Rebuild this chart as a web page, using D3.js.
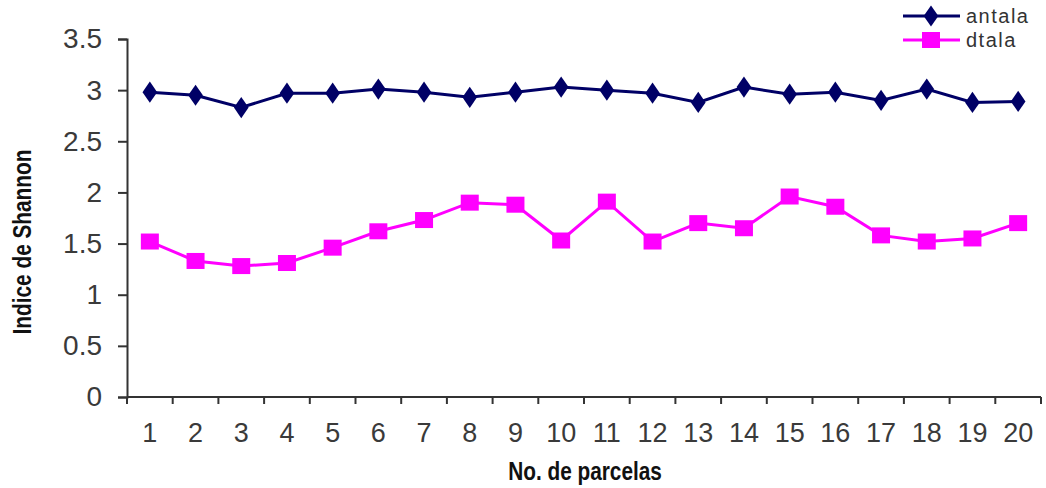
<!DOCTYPE html>
<html>
<head>
<meta charset="utf-8">
<script src="https://cdn.jsdelivr.net/npm/d3@7/dist/d3.min.js"></script>
<style>
  html, body { margin: 0; padding: 0; background: #ffffff; }
  svg { display: block; }
</style>
</head>
<body>
<svg id="chart" width="1046" height="488"></svg>
<script>
const categories = ["1","2","3","4","5","6","7","8","9","10","11","12","13","14","15","16","17","18","19","20"];
const antala = [2.98, 2.95, 2.83, 2.97, 2.97, 3.01, 2.98, 2.93, 2.98, 3.03, 3.00, 2.97, 2.88, 3.03, 2.96, 2.98, 2.90, 3.01, 2.88, 2.89];
const dtala  = [1.52, 1.33, 1.28, 1.31, 1.46, 1.62, 1.73, 1.90, 1.88, 1.53, 1.91, 1.52, 1.70, 1.65, 1.96, 1.86, 1.58, 1.52, 1.55, 1.70];
const yTicks = [0, 0.5, 1, 1.5, 2, 2.5, 3, 3.5];
const seriesNames = ["antala", "dtala"];
const seriesColors = ["#000066", "#ff00ff"];

const svg = d3.select("#chart");
const plotLeft = 127, plotRight = 1041, plotTop = 39, plotBottom = 397;

const x = d3.scaleBand().domain(categories).range([plotLeft, plotRight]).paddingInner(0).paddingOuter(0);
const y = d3.scaleLinear().domain([0, 3.5]).range([plotBottom, plotTop]);

const axisColor = "#333333";
const labelFont = "'Liberation Sans', Arial, sans-serif";

// Y axis
const yAxis = svg.append("g").attr("transform", `translate(${plotLeft},0)`)
  .call(d3.axisLeft(y).tickValues(yTicks).tickFormat(d => String(d)).tickSize(9).tickPadding(16));
yAxis.select(".domain").attr("stroke", axisColor).attr("stroke-width", 2);
yAxis.selectAll(".tick line").attr("stroke", axisColor).attr("stroke-width", 2);
yAxis.selectAll(".tick text").attr("font-family", labelFont).attr("font-size", 28).attr("fill", "#3a3a3a");

// X axis: ticks at band boundaries
const xAxisG = svg.append("g").attr("transform", `translate(0,${plotBottom})`);
xAxisG.append("line").attr("x1", plotLeft).attr("x2", plotRight).attr("y1", 0).attr("y2", 0)
  .attr("stroke", axisColor).attr("stroke-width", 2);
const boundaries = categories.map(c => x(c)).concat([x(categories[categories.length-1]) + x.bandwidth()]);
xAxisG.selectAll("line.tick").data(boundaries).enter().append("line")
  .attr("class", "tick").attr("x1", d => d).attr("x2", d => d).attr("y1", 0).attr("y2", 7)
  .attr("stroke", axisColor).attr("stroke-width", 2);
xAxisG.selectAll("text.lbl").data(categories).enter().append("text")
  .attr("class", "lbl")
  .attr("x", d => x(d) + x.bandwidth()/2)
  .attr("y", 45)
  .attr("text-anchor", "middle")
  .attr("font-family", labelFont).attr("font-size", 27).attr("fill", "#3a3a3a")
  .text(d => d);

// Axis titles (condensed bold)
const titleFont = "'Liberation Sans Narrow', 'Liberation Sans', Arial, sans-serif";
svg.append("text")
  .attr("transform", `translate(31,${(plotTop+plotBottom)/2 + 24}) rotate(-90) scale(0.8,1)`)
  .attr("text-anchor", "middle")
  .attr("font-family", titleFont).attr("font-weight", "bold").attr("font-size", 26)
  .attr("fill", "#111")
  .text("Indice de Shannon");
svg.append("text")
  .attr("transform", `translate(585,480) scale(0.8,1)`)
  .attr("text-anchor", "middle")
  .attr("font-family", titleFont).attr("font-weight", "bold").attr("font-size", 26)
  .attr("fill", "#111")
  .text("No. de parcelas");

// Lines
const data = [antala, dtala];
const line = d3.line().x((d, i) => x(categories[i]) + x.bandwidth()/2).y(d => y(d));
data.forEach((vals, si) => {
  svg.append("path").datum(vals).attr("d", line)
    .attr("fill", "none").attr("stroke", seriesColors[si]).attr("stroke-width", 3);
});

// Markers
const diamond = d3.symbol().type(d3.symbolDiamond).size(130);
svg.append("g").selectAll("path").data(antala).enter().append("path")
  .attr("d", diamond)
  .attr("transform", (d, i) => `translate(${x(categories[i]) + x.bandwidth()/2},${y(d)}) scale(1.2,1)`)
  .attr("fill", seriesColors[0]);
svg.append("g").selectAll("rect").data(dtala).enter().append("rect")
  .attr("x", (d, i) => x(categories[i]) + x.bandwidth()/2 - 9)
  .attr("y", d => y(d) - 8)
  .attr("width", 18).attr("height", 16)
  .attr("fill", seriesColors[1]);

// Legend
const legendRows = [{name: seriesNames[0], color: seriesColors[0], cy: 16, type: "diamond"},
                    {name: seriesNames[1], color: seriesColors[1], cy: 40, type: "square"}];
const lg = svg.append("g");
legendRows.forEach(r => {
  lg.append("line").attr("x1", 903).attr("x2", 960).attr("y1", r.cy).attr("y2", r.cy)
    .attr("stroke", r.color).attr("stroke-width", 3);
  if (r.type === "diamond") {
    lg.append("path").attr("d", diamond).attr("transform", `translate(931,${r.cy}) scale(1.2,1)`).attr("fill", r.color);
  } else {
    lg.append("rect").attr("x", 922).attr("y", r.cy - 8).attr("width", 18).attr("height", 16).attr("fill", r.color);
  }
  lg.append("text").attr("x", 966).attr("y", r.cy + 7)
    .attr("font-family", labelFont).attr("font-size", 20).attr("letter-spacing", 1.5).attr("fill", "#333")
    .text(r.name);
});
</script>
</body>
</html>
